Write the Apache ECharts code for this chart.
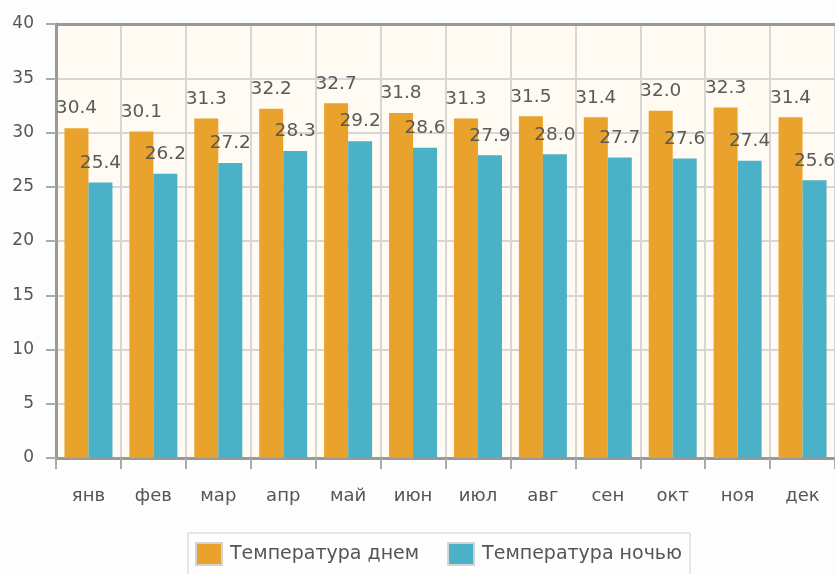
<!doctype html>
<html lang="ru">
<head>
<meta charset="utf-8">
<title>Температура</title>
<script src="https://cdn.jsdelivr.net/npm/echarts@6/dist/echarts.min.js"></script>
<style>
  html, body { margin: 0; padding: 0; background: #fdfdfd; }
  #chart { width: 835px; height: 574px; }
</style>
</head>
<body>
<div id="chart"></div>
<script>
// данные
let months = ['янв', 'фев', 'мар', 'апр', 'май', 'июн', 'июл', 'авг', 'сен', 'окт', 'ноя', 'дек'];
let dayTemp = [30.4, 30.1, 31.3, 32.2, 32.7, 31.8, 31.3, 31.5, 31.4, 32.0, 32.3, 31.4];
let nightTemp = [25.4, 26.2, 27.2, 28.3, 29.2, 28.6, 27.9, 28.0, 27.7, 27.6, 27.4, 25.6];
let seriesNames = ['Температура днем', 'Температура ночью'];

let font = 'DejaVu Sans';
let chart = echarts.init(document.getElementById('chart'));

let labelOpt = {
    show: true,
    position: 'top',
    distance: 10,
    fontFamily: font,
    fontSize: 18.5,
    color: '#5a5a5a',
    formatter: function (p) { return p.value.toFixed(1); }
};

let option = {
    animation: false,
    textStyle: { fontFamily: font },
    grid: {
        left: 56, top: 24, right: -7, bottom: 116,
        show: true,
        backgroundColor: '#fffbf3',
        borderWidth: 0
    },
    legend: {
        data: seriesNames,
        left: 188, top: 533,
        padding: [9, 8, 20, 7],
        itemGap: 28,
        itemWidth: 26, itemHeight: 22,
        icon: 'rect',
        itemStyle: { borderColor: '#d4d4d4', borderWidth: 2 },
        borderColor: '#cfcfcf', borderWidth: 1,
        backgroundColor: '#fefefe',
        textStyle: { fontFamily: font, fontSize: 19, color: '#555', padding: [0, 0, 0, 3] }
    },
    xAxis: [{
        type: 'category',
        data: months,
        axisLine: { lineStyle: { color: '#999', width: 3 } },
        axisTick: { show: true, length: 11, lineStyle: { color: '#aaa', width: 2 } },
        axisLabel: { margin: 29, fontSize: 18, color: '#555', fontFamily: font },
        splitLine: { show: true, lineStyle: { color: '#d6d6d6', width: 2 } }
    }, {
        type: 'category',
        position: 'top',
        data: months,
        axisLine: { lineStyle: { color: '#999', width: 3 } },
        axisTick: { show: false },
        axisLabel: { show: false },
        splitLine: { show: false }
    }],
    yAxis: {
        type: 'value',
        min: 0, max: 40, interval: 5,
        axisLine: { show: true, lineStyle: { color: '#999', width: 3 } },
        axisTick: { show: true, length: 10, lineStyle: { color: '#aaa', width: 2 } },
        axisLabel: { margin: 22, fontSize: 17, color: '#555', fontFamily: font },
        splitLine: { show: true, lineStyle: { color: '#d6d6d6', width: 2 } }
    },
    series: [{
        name: seriesNames[0],
        type: 'bar',
        data: dayTemp,
        barWidth: 24,
        barGap: '0%',
        itemStyle: { color: '#e9a22b' },
        label: labelOpt
    }, {
        name: seriesNames[1],
        type: 'bar',
        data: nightTemp,
        barWidth: 24,
        barGap: '0%',
        itemStyle: { color: '#4bb1c6' },
        label: labelOpt
    }]
};

chart.setOption(option);
</script>
</body>
</html>
